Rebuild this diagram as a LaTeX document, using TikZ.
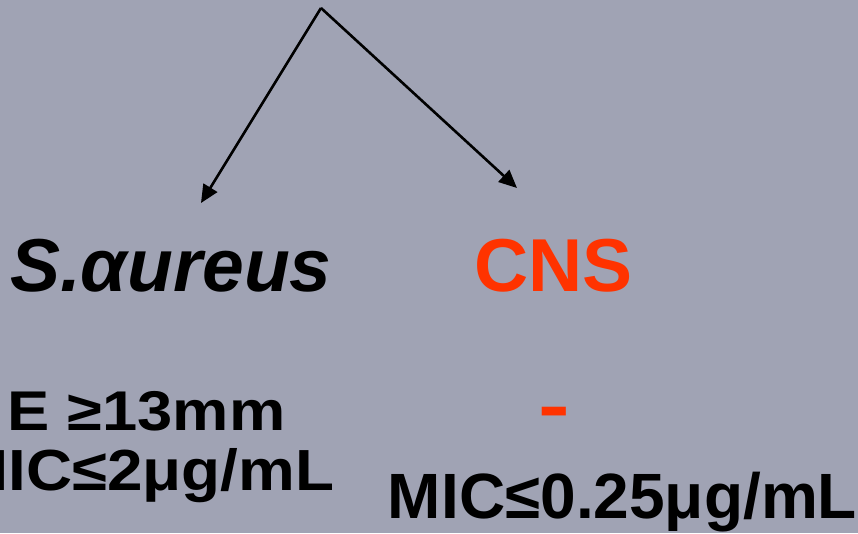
\documentclass[tikz,border=0pt]{standalone}
\usepackage{fontspec}
\setmainfont{Liberation Sans}
\usetikzlibrary{arrows.meta}
\definecolor{bg}{RGB}{160,163,180}
\definecolor{redorange}{RGB}{255,51,0}
\tikzset{
  lbl/.style={inner sep=0pt, outer sep=0pt, font=\bfseries},
  conn/.style={draw=black, line width=2.6pt, -{Triangle[length=18pt,width=16pt]}}
}
\newcommand{\fs}[1]{\fontsize{#1}{#1}\selectfont}
\begin{document}
\begin{tikzpicture}[x=1pt,y=-1pt]
\fill[bg] (0,0) rectangle (858,533);
\useasboundingbox (0,0) rectangle (858,533);
\coordinate (top) at (321,8);
\coordinate (tipL) at (201,203);
\coordinate (tipR) at (517,188);
\draw[conn] (top) -- (tipL);
\draw[conn] (top) -- (tipR);
\node[lbl, anchor=base west] (sa) at (10,291) {\fs{75}\itshape S.αureus};
\node[lbl, anchor=base west, text=redorange] (cns) at (474,291) {\fs{75}CNS};
\node[lbl, anchor=base west, xscale=1.13] (e13) at (8,430) {\fs{56}E ≥13mm};
\node[lbl, anchor=base east, xscale=1.1] (mic2) at (334,490) {\fs{58}MIC≤2μg/mL};
\node[lbl, anchor=center, xscale=1.3, text=redorange] (dash) at (554.5,419) {\fs{73}-};
\node[lbl, anchor=base east] (mic025) at (857,518) {\fs{64}MIC≤0.25μg/mL};
\end{tikzpicture}
\end{document}
